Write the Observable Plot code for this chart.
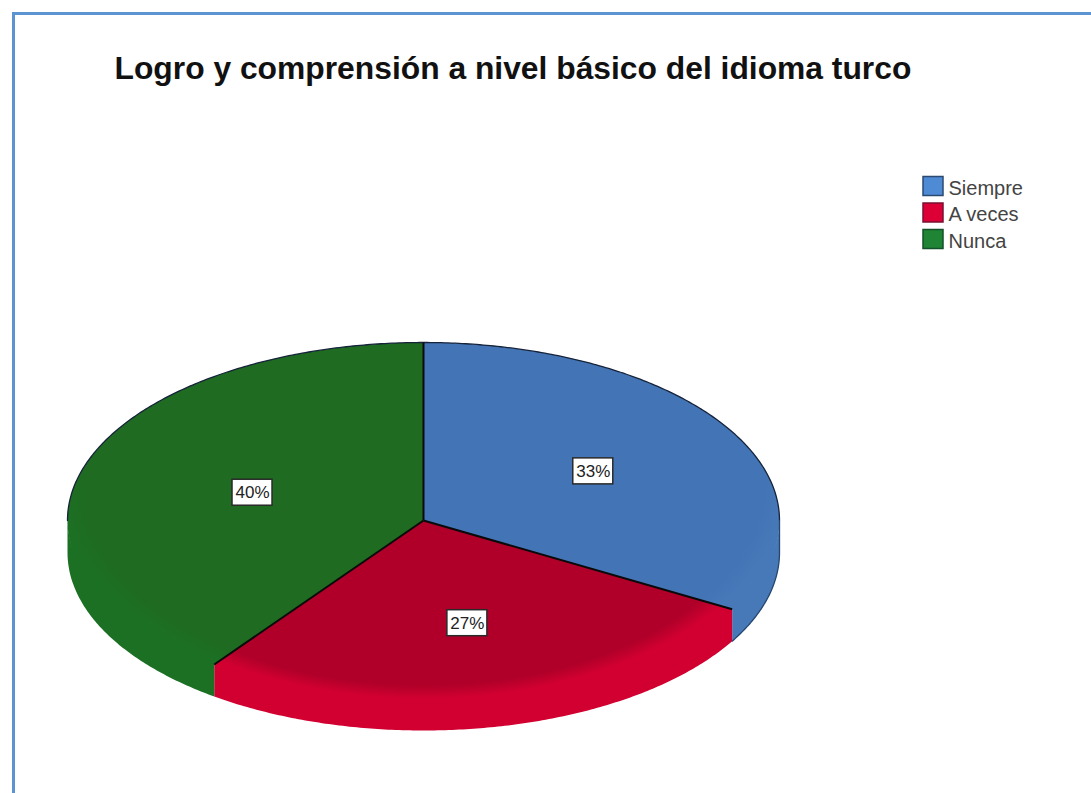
<!DOCTYPE html>
<html>
<head>
<meta charset="utf-8">
<script src="https://cdn.jsdelivr.net/npm/d3@7"></script>
<script src="https://cdn.jsdelivr.net/npm/@observablehq/plot@0.6"></script>
<style>
html,body{margin:0;padding:0;background:#fff;overflow:hidden}
svg{display:block}
</style>
</head>
<body>
<div id="chart"></div>
<script>
const chartTitle = "Logro y comprensión a nivel básico del idioma turco";
const categories = ["Siempre", "A veces", "Nunca"];
const percents = [33.3, 26.7, 40];
const topColors = ["#4375b6", "#b00029", "#1e6b21"];
const rimColors = ["#4779b9", "#d20031", "#1c7024"];
const legendColors = ["#4f8ad4", "#dc0036", "#1f8534"];
const legendEdges = ["#2b4a72", "#7a1030", "#14502a"];

const W = 1091, H = 793;
const cx = 423, cy = 520, rx = 356, ry = 178, depth = 32;
const labelRadius = [0.551, 0.59, 0.505];
const TAU = Math.PI * 2;

const onRim = (a, dy = 0) => ({x: cx + rx * Math.sin(a), y: cy - ry * Math.cos(a) + dy});
const arcPts = (a0, a1, dy = 0) => {
  const n = Math.max(2, Math.ceil(Math.abs(a1 - a0) / 0.01));
  return d3.range(n + 1).map(i => onRim(a0 + (a1 - a0) * i / n, dy));
};

const slices = d3.pie().sort(null).value(d => d)(percents).map((s, i) => ({
  category: categories[i], pct: percents[i], a0: s.startAngle, a1: s.endAngle, i
}));

// top faces
const faces = slices.flatMap(s =>
  [{x: cx, y: cy}, ...arcPts(s.a0, s.a1), {x: cx, y: cy}].map(p => ({...p, category: s.category, paint: `url(#face${s.i})`}))
);
// visible side walls, lower half of the ellipse only; they run a little under the face to hide the seam
const sides = slices.flatMap(s => {
  const a0 = Math.max(s.a0, Math.PI / 2), a1 = Math.min(s.a1, Math.PI * 1.5);
  if (a1 <= a0) return [];
  return [...arcPts(a0, a1, -2), ...arcPts(a1, a0, depth)].map(p => ({...p, category: s.category, paint: rimColors[s.i]}));
});
// radial dividers
const radii = slices.map(s => ({x1: cx, y1: cy, ...(({x, y}) => ({x2: x, y2: y}))(onRim(s.a0))}));
// dark silhouette: upper arc, right wall, lower edge of the blue wall
const upperEdge = [...arcPts(Math.PI * 1.5, TAU), ...arcPts(0, Math.PI / 2)];
const blueEdge = [onRim(Math.PI / 2), ...arcPts(Math.PI / 2, slices[0].a1, depth)];
// labels
const labels = slices.map(s => {
  const mid = (s.a0 + s.a1) / 2, k = labelRadius[s.i];
  return {text: Math.round(s.pct) + "%", x: cx + rx * k * Math.sin(mid), y: cy - ry * k * Math.cos(mid)};
});
// legend
const legend = categories.map((c, i) => ({c, i, y: 186 + i * 26.5}));

const defsMark = () => {
  const ns = "http://www.w3.org/2000/svg";
  const defs = document.createElementNS(ns, "defs");
  topColors.forEach((c, i) => {
    const g = document.createElementNS(ns, "radialGradient");
    g.setAttribute("id", "face" + i);
    g.setAttribute("gradientUnits", "userSpaceOnUse");
    g.setAttribute("cx", 0); g.setAttribute("cy", 0); g.setAttribute("r", 1);
    g.setAttribute("gradientTransform", `translate(${cx} ${cy - 40}) scale(${rx / 0.98} ${ry + 40})`);
    [[0, c], [0.94, c], [1, rimColors[i]]].forEach(([o, col]) => {
      const st = document.createElementNS(ns, "stop");
      st.setAttribute("offset", o); st.setAttribute("stop-color", col);
      g.appendChild(st);
    });
    defs.appendChild(g);
  });
  return defs;
};

const plot = Plot.plot({
  width: W, height: H, margin: 0,
  x: {domain: [0, W], range: [0, W], axis: null},
  y: {domain: [0, H], range: [0, H], axis: null},
  color: {type: "identity"},
  style: {background: "#fff", fontFamily: "'Liberation Sans', Arial, sans-serif"},
  marks: [
    defsMark,
    // frame
    Plot.ruleY([13], {x1: 12, x2: W, stroke: "#5b94d0", strokeWidth: 3}),
    Plot.ruleX([13], {y1: 12, y2: H, stroke: "#5b94d0", strokeWidth: 3}),
    // title
    Plot.text([chartTitle], {x: 114, y: 68, text: d => d, textAnchor: "start", fontSize: 31.8, fontWeight: "bold", fill: "#111"}),
    // pie
    Plot.line(sides, {x: "x", y: "y", z: "category", fill: "paint", stroke: null}),
    Plot.line(faces, {x: "x", y: "y", z: "category", fill: "paint", stroke: null}),
    Plot.line(upperEdge, {x: "x", y: "y", stroke: "#16233a", strokeWidth: 1.3}),
    Plot.line(blueEdge, {x: "x", y: "y", stroke: "#24466f", strokeWidth: 1.3}),
    Plot.link(radii, {x1: "x1", y1: "y1", x2: "x2", y2: "y2", stroke: "#0a0a0a", strokeWidth: 2}),
    // value labels
    Plot.rect(labels, {x1: d => d.x - 20, x2: d => d.x + 20, y1: d => d.y - 13, y2: d => d.y + 13, fill: "#fff", stroke: "#2a2a2a", strokeWidth: 1.5}),
    Plot.text(labels, {x: "x", y: "y", text: "text", fontSize: 17, fill: "#222"}),
    // legend
    Plot.rect(legend, {x1: 923, x2: 943, y1: d => d.y - 9.5, y2: d => d.y + 9.5, fill: d => legendColors[d.i], stroke: d => legendEdges[d.i], strokeWidth: 1.5}),
    Plot.text(legend, {x: 948, y: d => d.y + 2, text: "c", textAnchor: "start", fontSize: 20, fill: "#444"})
  ]
});
document.getElementById("chart").appendChild(plot);
</script>
</body>
</html>
